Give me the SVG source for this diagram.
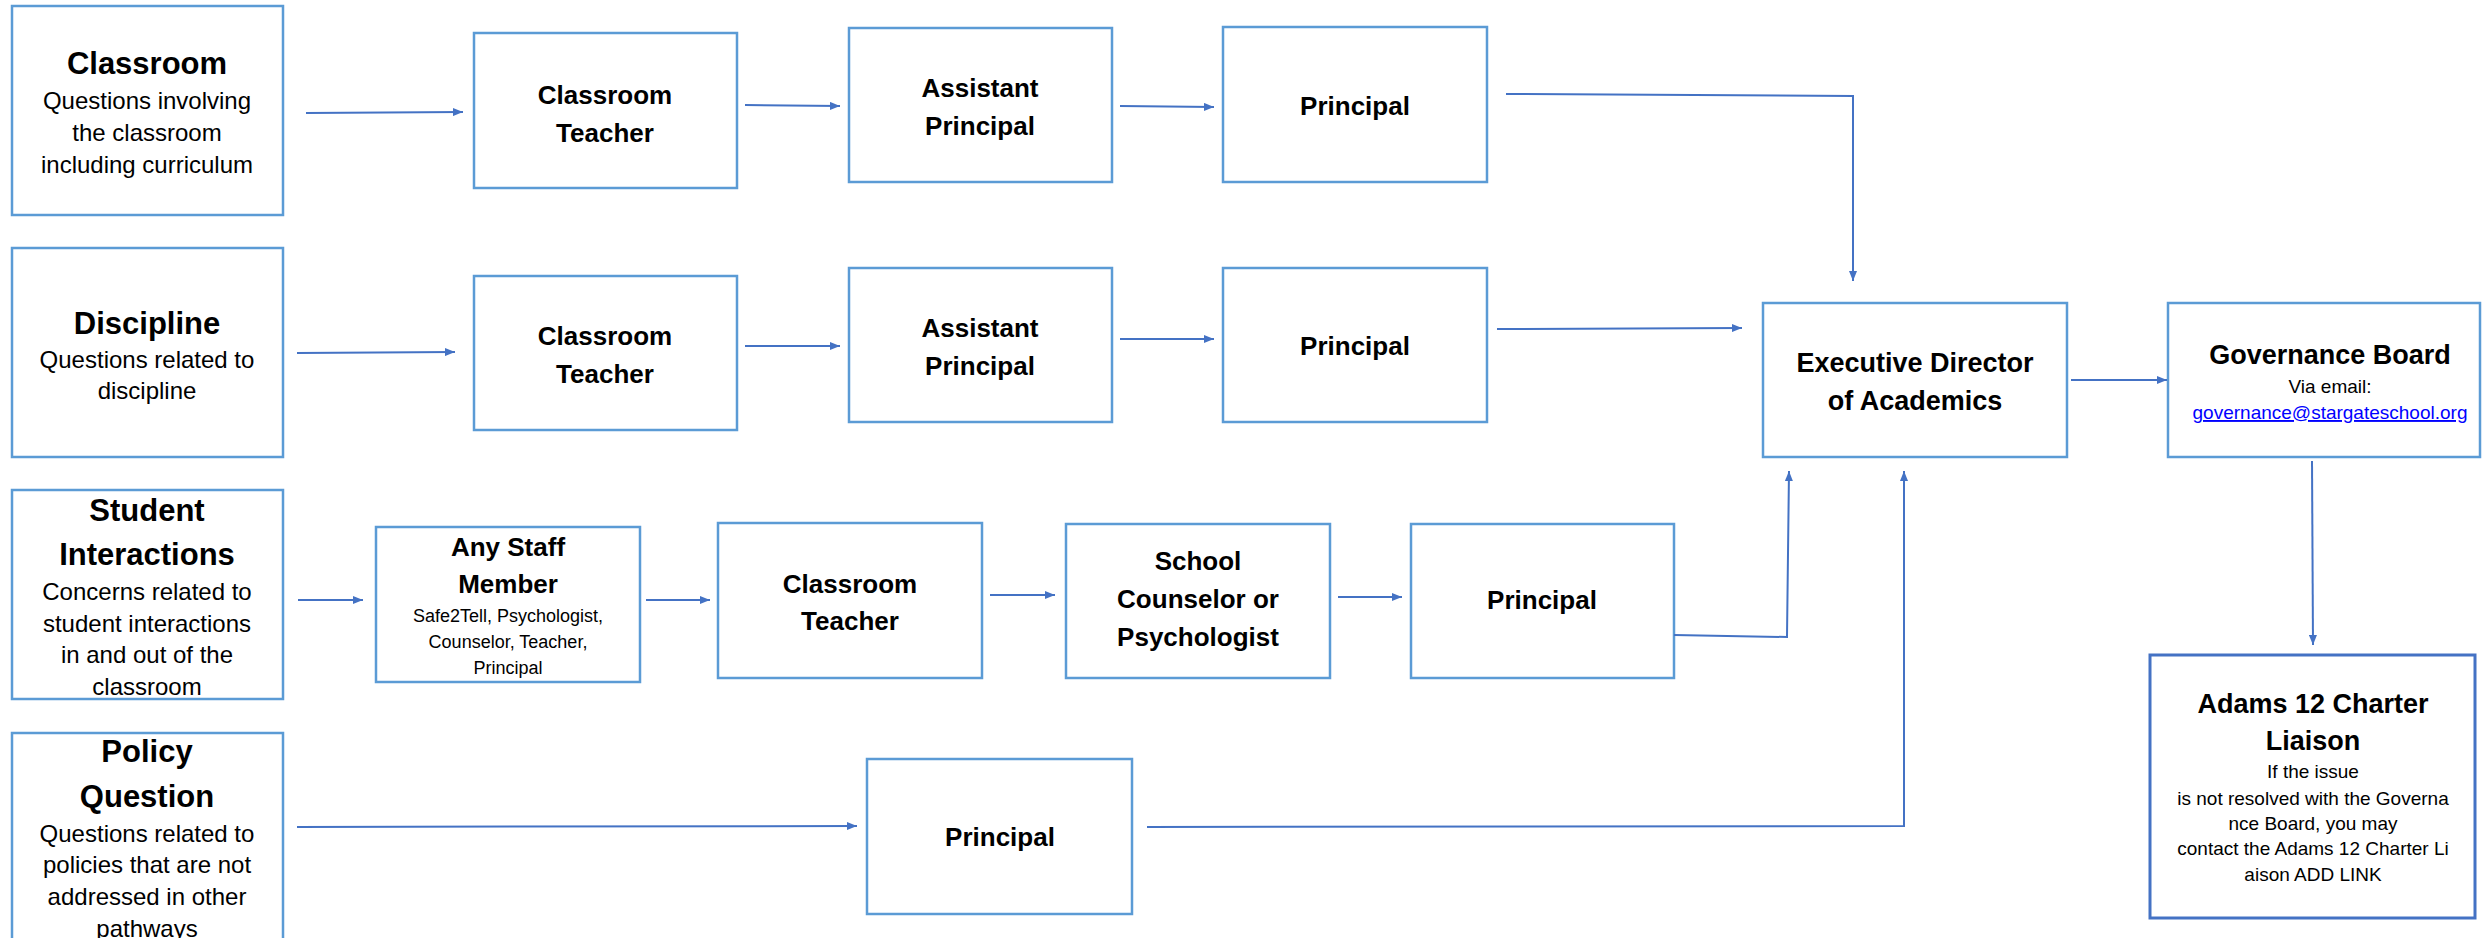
<svg xmlns="http://www.w3.org/2000/svg" width="2483" height="938" viewBox="0 0 2483 938">
<defs>
<marker id="ah" viewBox="0 0 10 8" refX="10" refY="4" markerWidth="10" markerHeight="8" markerUnits="userSpaceOnUse" orient="auto">
<path d="M0,0 L10,4 L0,8 z" fill="#4472C4"/>
</marker>
<style>
.box{fill:#fff;stroke:#5B9BD5;stroke-width:2.5}
.box2{fill:#fff;stroke:#4472C4;stroke-width:3}
.con{fill:none;stroke:#4472C4;stroke-width:2;marker-end:url(#ah)}
text{font-family:"Liberation Sans",Arial,sans-serif;fill:#000;text-anchor:middle}
.t1{font-size:31px;font-weight:bold}
.t2{font-size:26px;font-weight:bold}
.t3{font-size:27px;font-weight:bold}
.b1{font-size:24px}
.b2{font-size:19px}
.b3{font-size:18px}
.link{fill:#0000FF;text-decoration:underline}
</style>
</defs>
<rect width="2483" height="938" fill="#fff"/>

<g id="classroom">
<rect class="box" x="12" y="6" width="271" height="209"/>
<text class="t1" x="147" y="74">Classroom</text>
<text class="b1" x="147" y="109">Questions involving</text>
<text class="b1" x="147" y="141">the classroom</text>
<text class="b1" x="147" y="173">including curriculum</text>
</g>
<g id="ct1">
<rect class="box" x="474" y="33" width="263" height="155"/>
<text class="t2" x="605" y="104">Classroom</text>
<text class="t2" x="605" y="142">Teacher</text>
</g>
<g id="ap1">
<rect class="box" x="849" y="28" width="263" height="154"/>
<text class="t2" x="980" y="97">Assistant</text>
<text class="t2" x="980" y="135">Principal</text>
</g>
<g id="p1">
<rect class="box" x="1223" y="27" width="264" height="155"/>
<text class="t2" x="1355" y="115">Principal</text>
</g>

<g id="discipline">
<rect class="box" x="12" y="248" width="271" height="209"/>
<text class="t1" x="147" y="334">Discipline</text>
<text class="b1" x="147" y="368">Questions related to</text>
<text class="b1" x="147" y="399">discipline</text>
</g>
<g id="ct2">
<rect class="box" x="474" y="276" width="263" height="154"/>
<text class="t2" x="605" y="345">Classroom</text>
<text class="t2" x="605" y="383">Teacher</text>
</g>
<g id="ap2">
<rect class="box" x="849" y="268" width="263" height="154"/>
<text class="t2" x="980" y="337">Assistant</text>
<text class="t2" x="980" y="375">Principal</text>
</g>
<g id="p2">
<rect class="box" x="1223" y="268" width="264" height="154"/>
<text class="t2" x="1355" y="355">Principal</text>
</g>

<g id="student">
<rect class="box" x="12" y="490" width="271" height="209"/>
<text class="t1" x="147" y="521">Student</text>
<text class="t1" x="147" y="565">Interactions</text>
<text class="b1" x="147" y="600">Concerns related to</text>
<text class="b1" x="147" y="632">student interactions</text>
<text class="b1" x="147" y="663">in and out of the</text>
<text class="b1" x="147" y="695">classroom</text>
</g>
<g id="anystaff">
<rect class="box" x="376" y="527" width="264" height="155"/>
<text class="t2" x="508" y="556">Any Staff</text>
<text class="t2" x="508" y="593">Member</text>
<text class="b3" x="508" y="622">Safe2Tell, Psychologist,</text>
<text class="b3" x="508" y="648">Counselor, Teacher,</text>
<text class="b3" x="508" y="674">Principal</text>
</g>
<g id="ct3">
<rect class="box" x="718" y="523" width="264" height="155"/>
<text class="t2" x="850" y="593">Classroom</text>
<text class="t2" x="850" y="630">Teacher</text>
</g>
<g id="counselor">
<rect class="box" x="1066" y="524" width="264" height="154"/>
<text class="t2" x="1198" y="570">School</text>
<text class="t2" x="1198" y="608">Counselor or</text>
<text class="t2" x="1198" y="646">Psychologist</text>
</g>
<g id="p3">
<rect class="box" x="1411" y="524" width="263" height="154"/>
<text class="t2" x="1542" y="609">Principal</text>
</g>

<g id="policy">
<rect class="box" x="12" y="733" width="271" height="220"/>
<text class="t1" x="147" y="762">Policy</text>
<text class="t1" x="147" y="807">Question</text>
<text class="b1" x="147" y="842">Questions related to</text>
<text class="b1" x="147" y="873">policies that are not</text>
<text class="b1" x="147" y="905">addressed in other</text>
<text class="b1" x="147" y="937">pathways</text>
</g>
<g id="p4">
<rect class="box" x="867" y="759" width="265" height="155"/>
<text class="t2" x="1000" y="846">Principal</text>
</g>

<g id="exec">
<rect class="box" x="1763" y="303" width="304" height="154"/>
<text class="t3" x="1915" y="372">Executive Director</text>
<text class="t3" x="1915" y="410">of Academics</text>
</g>
<g id="gov">
<rect class="box" x="2168" y="303" width="312" height="154"/>
<text class="t3" x="2330" y="364">Governance Board</text>
<text class="b2" x="2330" y="393">Via email:</text>
<text class="b2 link" x="2330" y="419">governance@stargateschool.org</text>
</g>
<g id="adams">
<rect class="box2" x="2150" y="655" width="325" height="263"/>
<text class="t3" x="2313" y="713">Adams 12 Charter</text>
<text class="t3" x="2313" y="750">Liaison</text>
<text class="b2" x="2313" y="778">If the issue</text>
<text class="b2" x="2313" y="805">is not resolved with the Governa</text>
<text class="b2" x="2313" y="830">nce Board, you may</text>
<text class="b2" x="2313" y="855">contact the Adams 12 Charter Li</text>
<text class="b2" x="2313" y="881">aison ADD LINK</text>
</g>

<g id="connectors">
<polyline class="con" points="306,113 463,112"/>
<polyline class="con" points="745,105 840,106"/>
<polyline class="con" points="1120,106 1214,107"/>
<polyline class="con" points="1506,94 1853,96 1853,281"/>
<polyline class="con" points="297,353 455,352"/>
<polyline class="con" points="745,346 840,346"/>
<polyline class="con" points="1120,339 1214,339"/>
<polyline class="con" points="1497,329 1742,328"/>
<polyline class="con" points="298,600 363,600"/>
<polyline class="con" points="646,600 710,600"/>
<polyline class="con" points="990,595 1055,595"/>
<polyline class="con" points="1338,597 1402,597"/>
<polyline class="con" points="1674,635 1787,637 1789,471"/>
<polyline class="con" points="297,827 857,826"/>
<polyline class="con" points="1147,827 1904,826 1904,471"/>
<polyline class="con" points="2071,380 2167,380"/>
<polyline class="con" points="2312,461 2313,645"/>
</g>
</svg>
